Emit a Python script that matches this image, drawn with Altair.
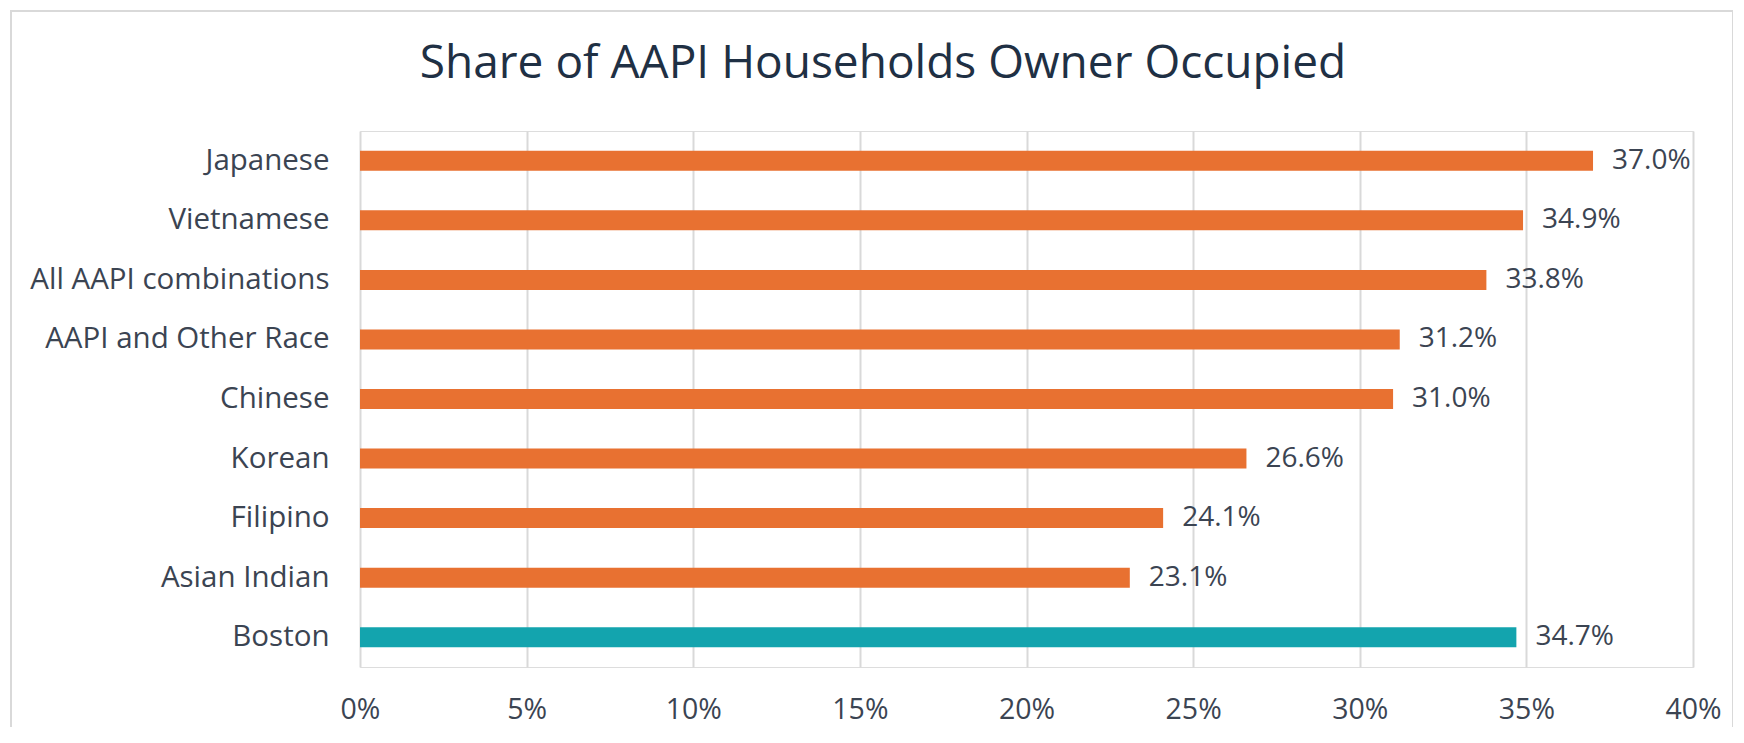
import altair as alt
import pandas as pd

title_text = "Share of AAPI Households Owner Occupied"
categories = ["Japanese", "Vietnamese", "All AAPI combinations", "AAPI and Other Race",
              "Chinese", "Korean", "Filipino", "Asian Indian", "Boston"]
values = [0.370, 0.349, 0.338, 0.312, 0.310, 0.266, 0.241, 0.231, 0.347]
groups = ["AAPI"] * 8 + ["Boston"]
x_ticks = [0, 0.05, 0.10, 0.15, 0.20, 0.25, 0.30, 0.35, 0.40]

df = pd.DataFrame({"category": categories, "value": values, "group": groups})

FONT = "Open Sans"
TXT = "#3b4452"

y_enc = alt.Y("category:N", sort=categories, title=None,
              scale=alt.Scale(paddingInner=0.66, paddingOuter=0.33),
              axis=alt.Axis(labelFontSize=29.5, labelColor=TXT, labelFont=FONT, labelLimit=500,
                            labelPadding=31, ticks=False, domain=False, grid=False))
x_enc = alt.X("value:Q", title=None,
              scale=alt.Scale(domain=[0, 0.40]),
              axis=alt.Axis(values=x_ticks, format=".0%", labelFontSize=28.5, labelColor=TXT,
                            labelFont=FONT, labelPadding=28, labelFlush=False, ticks=False,
                            domain=False, grid=True, gridColor="#d9d9d9", gridWidth=2))

bars = alt.Chart(df).mark_bar(size=20).encode(
    y=y_enc, x=x_enc,
    color=alt.Color("group:N", scale=alt.Scale(domain=["AAPI", "Boston"],
                                               range=["#e87131", "#13a4ae"]), legend=None),
)

labels = alt.Chart(df).mark_text(align="left", baseline="middle", dx=19, fontSize=28,
                                 font=FONT, color=TXT).encode(
    y=alt.Y("category:N", sort=categories),
    x=alt.X("value:Q"),
    text=alt.Text("value:Q", format=".1%"),
)

border = alt.Chart(df).mark_rect(fill=None, stroke="#d9d9d9", strokeWidth=2, clip=False).encode(
    x=alt.value(-349), x2=alt.value(1373), y=alt.value(-120), y2=alt.value(650)
)

title = alt.Chart(pd.DataFrame({"t": [title_text]})).mark_text(
    align="center", baseline="alphabetic", fontSize=46, font=FONT, color="#1f3044"
).encode(text="t:N", x=alt.value(523), y=alt.value(-53))

chart = alt.layer(border, bars, labels, title).properties(
    width=1333, height=536,
    autosize=alt.AutoSizeParams(type="none"),
    padding={"left": 352, "top": 123, "right": 40, "bottom": 60},
).configure_view(stroke=None).configure(background="white")

chart.save("out.html", embed_options={"renderer": "svg", "actions": False})
